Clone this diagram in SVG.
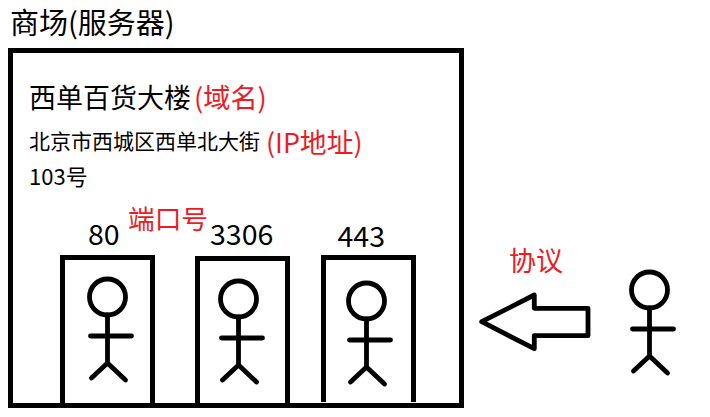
<svg xmlns="http://www.w3.org/2000/svg" width="710" height="417" viewBox="0 0 710 417">
<style>
text{font-family:"Noto Sans CJK SC","Noto Sans",sans-serif;fill:#000}
.r{fill:#ed1c24}
.s{fill:none;stroke:#000;stroke-width:5}
.p{fill:none;stroke:#000;stroke-width:4.8;stroke-linecap:round;stroke-linejoin:round}
</style>
<defs>
<g id="person" class="p">
<circle cx="0" cy="0" r="18"/>
<path d="M0 18V66M-17 39H24M0 66L-16 81M0 66L18 83"/>
</g>
</defs>
<rect width="710" height="417" fill="#fff"/>
<text id="title" x="10" y="34" font-size="29">商场(服务器)</text>
<g id="server"><rect class="s" x="10.5" y="50.5" width="451" height="355"/></g>
<g id="labels">
<text x="29" y="108" font-size="27">西单百货大楼</text>
<text class="r" x="194" y="108" font-size="27.2">(域名)</text>
<text x="29" y="149" font-size="21">北京市西城区西单北大街</text>
<text class="r" x="266" y="153" font-size="26.8">(IP地址)</text>
<text x="29" y="185" font-size="22">103号</text>
<text class="r" x="128" y="229" font-size="26.7">端口号</text>
<text x="88" y="245" font-size="28.5">80</text>
<text x="210" y="245" font-size="28.5">3306</text>
<text x="337.500" y="247" font-size="28.5">443</text>
<text class="r" x="509" y="271" font-size="27">协议</text>
</g>
<g id="door80"><path class="s" d="M62.5 403V257.5H152.5V403"/><use href="#person" x="107.500" y="297"/></g>
<g id="door3306"><path class="s" d="M197.5 403V258.5H287.5V403"/><use href="#person" x="238.500" y="299"/></g>
<g id="door443"><path class="s" d="M323.5 402V257.5H413.5V402"/><use href="#person" x="366.500" y="301"/></g>
<g id="client"><use href="#person" x="649.500" y="290"/></g>
<g id="connectors"><path class="p" d="M481.7 321.7L534.3 295V308.3H588V335.7H534.3V348.7Z"/></g>
</svg>
